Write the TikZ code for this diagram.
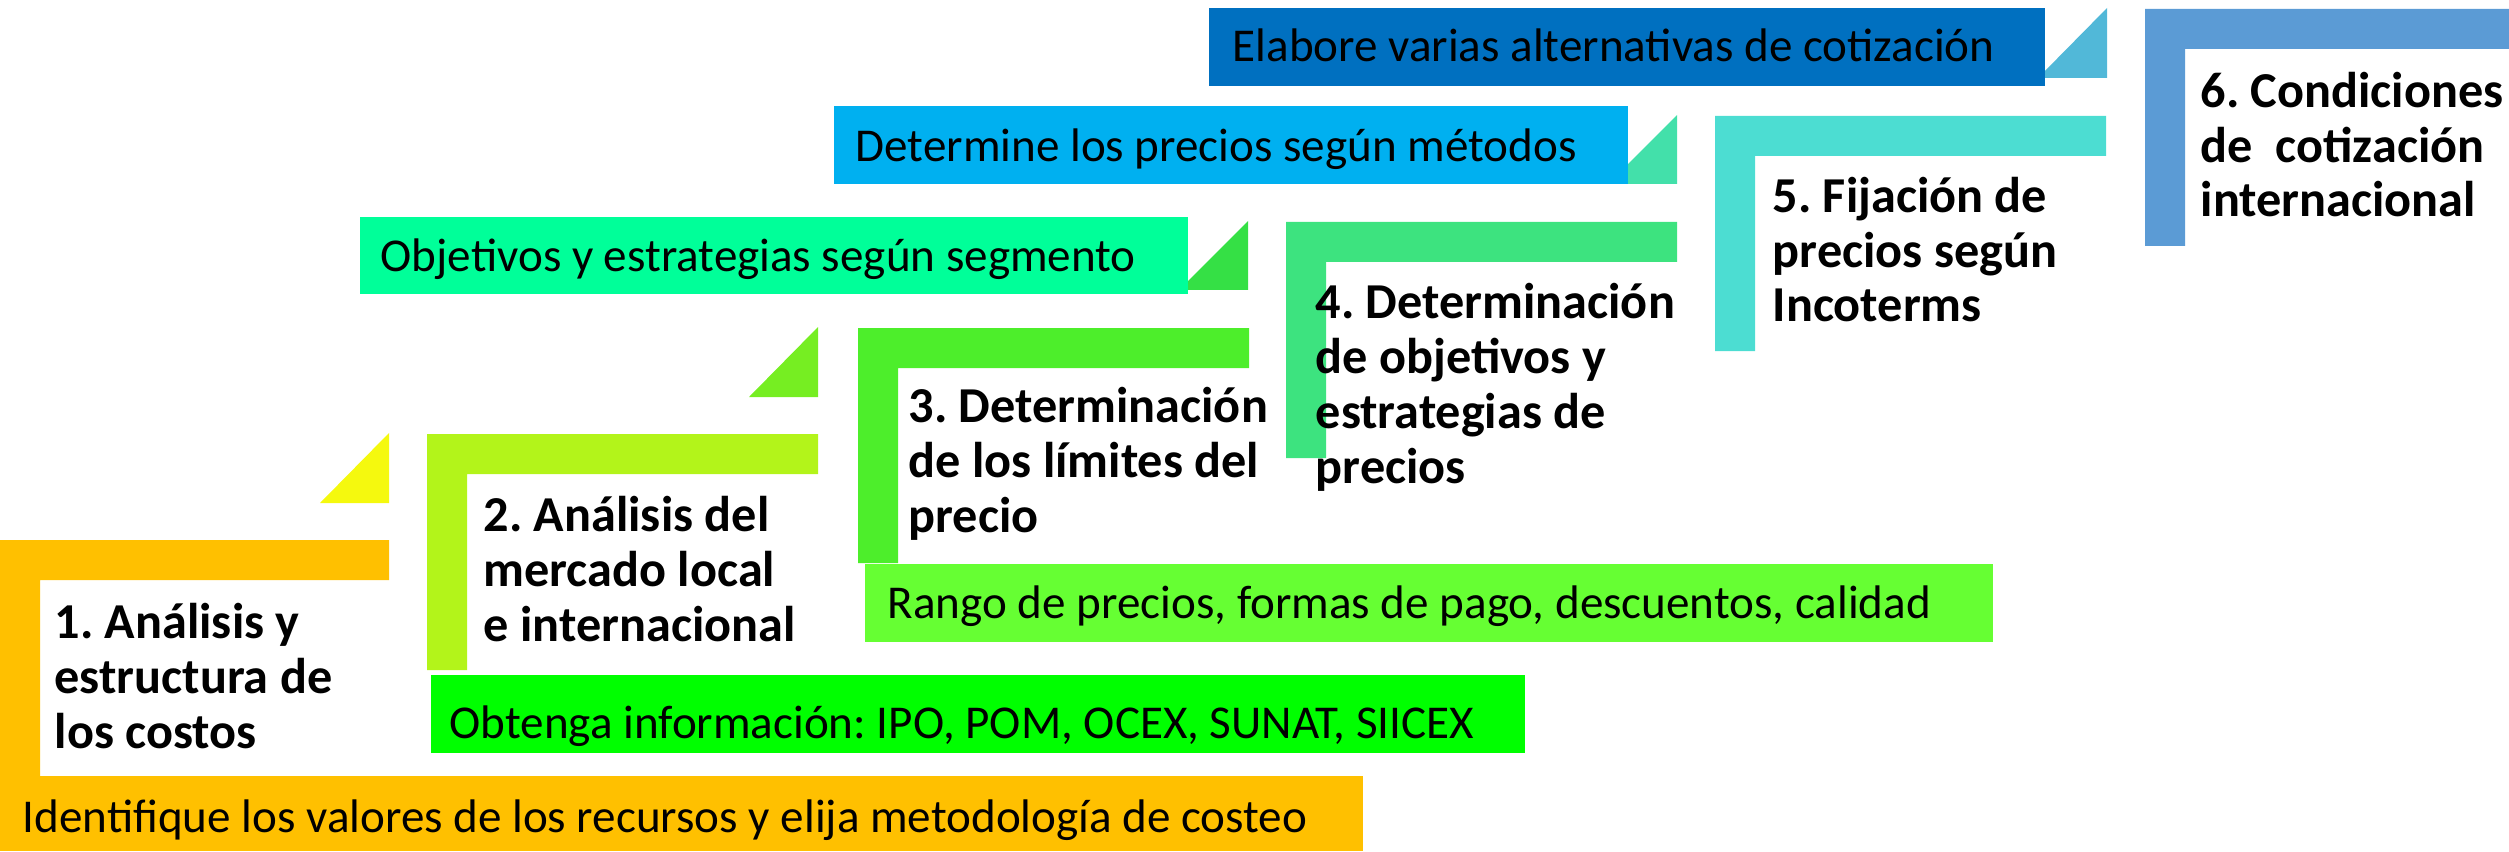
\documentclass[tikz,border=0pt]{standalone}
\usepackage{fontspec}
\setmainfont{Carlito}
\usepackage{tikz}
\frenchspacing

\definecolor{paso1}{HTML}{FFC000}
\definecolor{paso2}{HTML}{B3F41A}
\definecolor{paso3}{HTML}{4DEE2B}
\definecolor{paso4}{HTML}{3DE37F}
\definecolor{paso5}{HTML}{4CDDD2}
\definecolor{paso6}{HTML}{5B9BD5}
\definecolor{tri1}{HTML}{F5F90E}
\definecolor{tri2}{HTML}{76EE22}
\definecolor{tri3}{HTML}{35E045}
\definecolor{tri4}{HTML}{43E0AA}
\definecolor{tri5}{HTML}{51B8D8}
\definecolor{nota1}{HTML}{FFC000}
\definecolor{nota2}{HTML}{00FF00}
\definecolor{nota3}{HTML}{66FF33}
\definecolor{nota4}{HTML}{00FF99}
\definecolor{nota5}{HTML}{00B0F0}
\definecolor{nota6}{HTML}{0070C0}

\tikzset{
  titulo/.style={anchor=base west,align=left,inner sep=0pt,font=\bfseries\fontsize{14.3pt}{15.6pt}\selectfont},
  nota/.style={anchor=base west,inner sep=0pt,font=\fontsize{13.4pt}{16pt}\selectfont},
}

\begin{document}
\begin{tikzpicture}
\useasboundingbox (0mm,0mm) rectangle (250.9mm,85.1mm);

\fill[paso1] (0mm,31.1mm) -- (38.9mm,31.1mm) -- (38.9mm,27.1mm) -- (4mm,27.1mm) -- (4mm,7.5mm) -- (0mm,7.5mm) -- cycle;
\fill[paso2] (42.7mm,41.7mm) -- (81.8mm,41.7mm) -- (81.8mm,37.7mm) -- (46.7mm,37.7mm) -- (46.7mm,18.1mm) -- (42.7mm,18.1mm) -- cycle;
\fill[paso3] (85.8mm,52.3mm) -- (124.9mm,52.3mm) -- (124.9mm,48.3mm) -- (89.8mm,48.3mm) -- (89.8mm,28.8mm) -- (85.8mm,28.8mm) -- cycle;
\fill[paso4] (128.6mm,62.9mm) -- (167.7mm,62.9mm) -- (167.7mm,58.9mm) -- (132.6mm,58.9mm) -- (132.6mm,39.3mm) -- (128.6mm,39.3mm) -- cycle;
\fill[paso5] (171.5mm,73.5mm) -- (210.6mm,73.5mm) -- (210.6mm,69.5mm) -- (175.5mm,69.5mm) -- (175.5mm,50mm) -- (171.5mm,50mm) -- cycle;
\fill[paso6] (214.5mm,84.2mm) -- (250.9mm,84.2mm) -- (250.9mm,80.2mm) -- (218.5mm,80.2mm) -- (218.5mm,60.5mm) -- (214.5mm,60.5mm) -- cycle;

\fill[tri1] (32mm,34.8mm) -- (38.9mm,41.8mm) -- (38.9mm,34.8mm) -- cycle;
\fill[tri2] (74.9mm,45.4mm) -- (81.8mm,52.4mm) -- (81.8mm,45.4mm) -- cycle;
\fill[tri3] (117.9mm,56.1mm) -- (124.8mm,63mm) -- (124.8mm,56.1mm) -- cycle;
\fill[tri4] (160.8mm,66.7mm) -- (167.7mm,73.6mm) -- (167.7mm,66.7mm) -- cycle;
\fill[tri5] (203.8mm,77.3mm) -- (210.7mm,84.3mm) -- (210.7mm,77.3mm) -- cycle;

\fill[nota1] (0mm,0mm) rectangle (136.3mm,7.5mm);
\fill[nota2] (43.1mm,9.8mm) rectangle (152.5mm,17.6mm);
\fill[nota3] (86.5mm,20.9mm) rectangle (199.3mm,28.7mm);
\fill[nota4] (36mm,55.7mm) rectangle (118.8mm,63.4mm);
\fill[nota5] (83.4mm,66.7mm) rectangle (162.8mm,74.5mm);
\fill[nota6] (120.9mm,76.5mm) rectangle (204.5mm,84.3mm);

\node[nota] (n1) at (2.2mm,1.9mm) {Identifique los valores de los recursos y elija metodología de costeo};
\node[nota] (n2) at (44.9mm,11.3mm) {Obtenga información: IPO, POM, OCEX, SUNAT, SIICEX};
\node[nota] (n3) at (88.7mm,23.3mm) {Rango de precios, formas de pago, descuentos, calidad};
\node[nota] (n4) at (38mm,57.9mm) {Objetivos y estrategias según segmento};
\node[nota] (n5) at (85.5mm,68.9mm) {Determine los precios según métodos};
\node[nota] (n6) at (123.2mm,78.9mm) {Elabore varias alternativas de cotización};

% base = ultima linea
\node[titulo] (p1) at (5.4mm,10.3mm) {1. Análisis y\\estructura de\\los costos};
\node[titulo] (p2) at (48.3mm,21mm) {2. Análisis del\\mercado local\\e internacional};
\node[titulo] (p3) at (90.8mm,31.9mm) {3. Determinación\\de los límites del\\precio};
\node[titulo] (p4) at (131.5mm,36.8mm) {4. Determinación\\de objetivos y\\estrategias de\\precios};
\node[titulo] (p5) at (177.2mm,52.9mm) {5. Fijación de\\precios según\\Incoterms};
\node[titulo] (p6) at (220mm,63.4mm) {6. Condiciones\\de\ \ cotización\\internacional};
%\draw[step=1cm,color=gray!50!white] (0,0) grid (250.9mm,85.1mm);

\end{tikzpicture}
\end{document}
